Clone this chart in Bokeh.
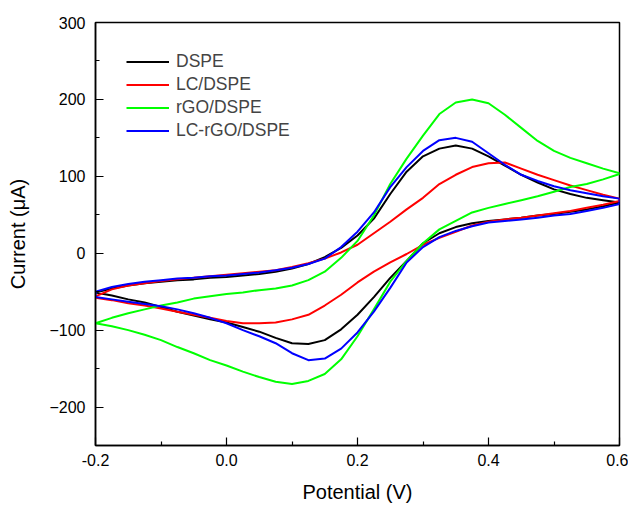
from bokeh.plotting import figure
from bokeh.models import Range1d, FixedTicker, PrintfTickFormatter
from bokeh.embed import file_html
from bokeh.resources import INLINE

# Potential grid (V), used for both scan directions
potential = [-0.200, -0.175, -0.150, -0.125, -0.100, -0.075, -0.050, -0.025, 0.000,
             0.025, 0.050, 0.075, 0.100, 0.125, 0.150, 0.175, 0.200,
             0.225, 0.250, 0.275, 0.300, 0.325, 0.350, 0.375, 0.400,
             0.425, 0.450, 0.475, 0.500, 0.525, 0.550, 0.575, 0.600]

# Forward (anodic) scan currents (uA)
dspe_fwd = [-51, -46, -42, -39, -37, -35, -34, -32, -31,
            -29, -27, -24, -20, -14, -5, 7, 23,
            45, 77, 106, 126, 136, 140, 136, 126,
            114, 102, 92, 83, 77, 72, 69, 66]
lc_fwd = [-56, -47, -42, -39, -36, -34, -32, -30, -28,
          -26, -24, -22, -18, -13, -7, 1, 11,
          26, 41, 57, 72, 90, 102, 112, 117,
          118, 110, 102, 95, 88, 82, 76, 71]
rgo_fwd = [-91, -84, -78, -73, -68, -64, -59, -56, -53,
           -51, -48, -46, -42, -35, -24, -6, 16,
           49, 90, 123, 153, 181, 196, 200, 195,
           180, 163, 146, 133, 124, 117, 110, 104]
lcrgo_fwd = [-50, -44, -40, -37, -35, -33, -32, -30, -29,
             -27, -25, -22, -19, -14, -7, 8, 28,
             53, 86, 112, 133, 147, 150, 145, 130,
             115, 102, 94, 87, 82, 78, 74, 71]

# Reverse (cathodic) scan currents (uA), listed by increasing potential
dspe_rev = [-51, -55, -60, -64, -70, -76, -81, -86, -90,
            -96, -102, -110, -117, -118, -113, -99, -80,
            -57, -32, -10, 13, 26, 34, 39, 42,
            44, 46, 49, 51, 54, 57, 61, 66]
lc_rev = [-58, -61, -65, -68, -72, -76, -80, -84, -88,
          -91, -91, -90, -86, -80, -68, -54, -38,
          -24, -12, -1, 11, 20, 28, 36, 41,
          44, 46, 49, 52, 55, 59, 63, 68]
rgo_rev = [-91, -95, -100, -106, -113, -122, -130, -139, -146,
           -154, -161, -167, -170, -166, -157, -138, -108,
           -73, -37, -10, 13, 31, 42, 53, 59,
           64, 69, 74, 80, 86, 90, 96, 103]
lcrgo_rev = [-57, -60, -63, -66, -69, -73, -78, -84, -91,
             -100, -108, -117, -130, -139, -137, -124, -103,
             -76, -45, -12, 8, 21, 29, 35, 40,
             42, 44, 46, 49, 51, 55, 59, 64]

series_names = ["DSPE", "LC/DSPE", "rGO/DSPE", "LC-rGO/DSPE"]
series_colors = ["#000000", "#ff0000", "#00ff00", "#0000ff"]
series_fwd = [dspe_fwd, lc_fwd, rgo_fwd, lcrgo_fwd]
series_rev = [dspe_rev, lc_rev, rgo_rev, lcrgo_rev]

x_ticks = [-0.2, 0.0, 0.2, 0.4, 0.6]
x_minor = [-0.1, 0.1, 0.3, 0.5]
y_ticks = [-200, -100, 0, 100, 200, 300]
y_minor = [-250, -150, -50, 50, 150, 250]

FONT = "Liberation Sans"

p = figure(width=628, height=505, output_backend="svg", toolbar_location=None,
           x_range=Range1d(-0.2, 0.6), y_range=Range1d(-250, 300),
           min_border_left=95, min_border_right=9, min_border_top=22, min_border_bottom=56)

p.background_fill_color = "white"
p.border_fill_color = "white"
p.outline_line_color = "black"
p.outline_line_width = 1.5
p.xgrid.visible = False
p.ygrid.visible = False

for name, color, fwd, rev in zip(series_names, series_colors, series_fwd, series_rev):
    xs = potential + potential[::-1] + [potential[0]]
    ys = fwd + rev[::-1] + [fwd[0]]
    p.line(xs, ys, line_color=color, line_width=2, line_join="round", legend_label=name)

for ax in (p.xaxis[0], p.yaxis[0]):
    ax.axis_line_color = "black"
    ax.axis_line_width = 1.5
    ax.major_tick_line_color = "black"
    ax.minor_tick_line_color = "black"
    ax.major_tick_line_width = 1.2
    ax.minor_tick_line_width = 1.2
    ax.major_tick_in = 8
    ax.major_tick_out = 0
    ax.minor_tick_in = 4
    ax.minor_tick_out = 0
    ax.major_label_text_font = FONT
    ax.major_label_text_font_size = "16px"
    ax.major_label_text_color = "black"
    ax.axis_label_text_font = FONT
    ax.axis_label_text_font_size = "20px"
    ax.axis_label_text_font_style = "normal"
    ax.axis_label_text_color = "black"

p.xaxis.ticker = FixedTicker(ticks=x_ticks, minor_ticks=x_minor)
p.yaxis.ticker = FixedTicker(ticks=y_ticks, minor_ticks=y_minor)
p.xaxis.formatter = PrintfTickFormatter(format="%.1f")
p.xaxis.axis_label = "Potential (V)"
p.yaxis.axis_label = "Current (μA)"
p.xaxis.major_label_standoff = 8
p.yaxis.major_label_standoff = 10
p.xaxis.axis_label_standoff = 12
p.yaxis.axis_label_standoff = 17

lg = p.legend[0]
lg.location = (31, 304)
lg.border_line_color = None
lg.background_fill_alpha = 0
lg.label_text_font = FONT
lg.label_text_font_size = "17.5px"
lg.glyph_width = 43
lg.glyph_height = 21
lg.label_height = 21
lg.label_standoff = 7
lg.spacing = 2
lg.padding = 0
lg.margin = 0

open("out.html", "w").write(file_html(p, INLINE))
